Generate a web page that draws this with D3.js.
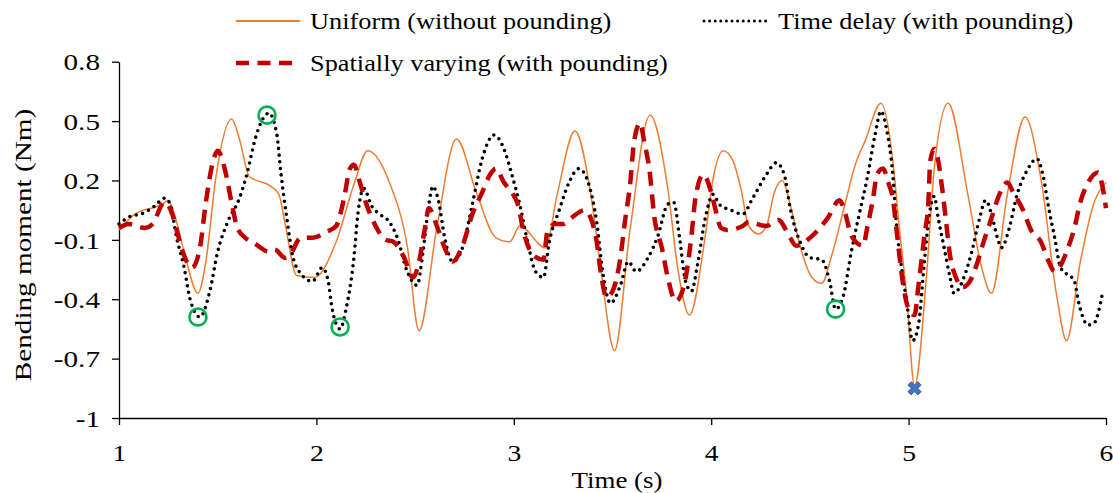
<!DOCTYPE html>
<html>
<head>
<meta charset="utf-8">
<script src="https://cdn.jsdelivr.net/npm/d3@7"></script>
<style>
  html, body { margin: 0; padding: 0; background: #fff; }
  svg text { font-family: "Liberation Serif", "Times New Roman", serif; fill: #000; }
</style>
</head>
<body>
<svg id="chart" width="1113" height="493"></svg>
<script>
// ---------- data ----------
const xTicks = [1, 2, 3, 4, 5, 6];
const yTicks = [0.8, 0.5, 0.2, -0.1, -0.4, -0.7, -1];
const seriesNames = ["Uniform (without pounding)", "Time delay (with pounding)", "Spatially varying (with pounding)"];
const xTitle = "Time (s)";
const yTitle = "Bending moment (Nm)";

// [time (s), bending moment (Nm)]
const uniform = [[1.00,-0.05],[1.08,0.03],[1.22,0.08],[1.25,0.10],[1.28,0.03],[1.33,-0.16],[1.40,-0.37],[1.44,-0.21],[1.49,0.21],[1.57,0.51],
  [1.61,0.41],[1.66,0.22],[1.77,0.17],[1.81,0.13],[1.84,-0.01],[1.90,-0.28],[1.99,-0.29],[2.10,-0.11],[2.19,0.18],[2.26,0.35],
  [2.37,0.19],[2.46,-0.13],[2.52,-0.56],[2.61,-0.04],[2.71,0.41],[2.81,0.14],[2.91,-0.09],[2.98,-0.11],[3.03,-0.03],[3.16,-0.14],
  [3.22,0.13],[3.31,0.45],[3.39,0.13],[3.44,-0.24],[3.51,-0.66],[3.59,-0.04],[3.69,0.53],[3.78,0.16],[3.83,-0.24],[3.89,-0.48],
  [3.97,-0.08],[4.01,0.21],[4.06,0.35],[4.11,0.30],[4.15,0.16],[4.19,-0.03],[4.24,-0.07],[4.28,-0.03],[4.32,0.14],[4.36,0.20],
  [4.40,0.08],[4.45,-0.13],[4.51,-0.29],[4.56,-0.32],[4.61,-0.18],[4.68,0.09],[4.73,0.28],[4.78,0.40],[4.86,0.59],[4.92,0.30],
  [4.95,-0.01],[4.99,-0.38],[5.03,-0.84],[5.09,-0.29],[5.13,0.26],[5.20,0.59],[5.30,0.13],[5.37,-0.24],[5.42,-0.37],[5.50,0.13],
  [5.59,0.52],[5.67,0.21],[5.75,-0.38],[5.80,-0.61],[5.87,-0.21],[5.94,0.09],[6.00,0.19]];

const timeDelay = [[1.00,-0.02],[1.06,0.02],[1.11,0.03],[1.18,0.07],[1.23,0.11],[1.26,0.08],[1.29,-0.08],[1.33,-0.24],[1.36,-0.40],[1.41,-0.49],
  [1.46,-0.36],[1.50,-0.16],[1.55,-0.01],[1.61,0.11],[1.65,0.24],[1.69,0.41],[1.76,0.54],[1.80,0.43],[1.82,0.24],[1.85,0.01],
  [1.88,-0.18],[1.92,-0.27],[1.98,-0.31],[2.03,-0.24],[2.06,-0.31],[2.08,-0.45],[2.12,-0.55],[2.15,-0.45],[2.19,-0.19],[2.21,0.03],
  [2.24,0.16],[2.28,0.07],[2.32,0.03],[2.37,-0.01],[2.41,-0.09],[2.46,-0.26],[2.51,-0.33],[2.54,-0.16],[2.57,0.08],[2.59,0.17],
  [2.62,0.09],[2.65,-0.09],[2.69,-0.21],[2.74,-0.14],[2.79,0.08],[2.84,0.31],[2.90,0.43],[2.95,0.36],[2.99,0.23],[3.03,0.08],
  [3.07,-0.11],[3.11,-0.26],[3.15,-0.29],[3.18,-0.11],[3.23,0.05],[3.28,0.19],[3.33,0.26],[3.38,0.18],[3.42,-0.01],[3.45,-0.26],
  [3.49,-0.42],[3.54,-0.33],[3.58,-0.21],[3.62,-0.26],[3.68,-0.19],[3.73,-0.08],[3.78,0.08],[3.81,0.09],[3.84,-0.09],[3.87,-0.31],
  [3.90,-0.36],[3.93,-0.23],[3.97,0.01],[4.01,0.13],[4.04,0.08],[4.10,0.05],[4.16,0.03],[4.21,0.11],[4.28,0.23],[4.33,0.29],
  [4.37,0.23],[4.40,0.06],[4.45,-0.11],[4.50,-0.19],[4.56,-0.20],[4.60,-0.31],[4.63,-0.45],[4.67,-0.38],[4.71,-0.16],[4.75,0.03],
  [4.79,0.21],[4.83,0.43],[4.86,0.55],[4.89,0.45],[4.92,0.23],[4.94,-0.04],[4.96,-0.21],[4.99,-0.41],[5.02,-0.61],[5.05,-0.53],
  [5.08,-0.21],[5.10,-0.01],[5.13,0.12],[5.15,0.01],[5.18,-0.14],[5.21,-0.29],[5.23,-0.37],[5.28,-0.29],[5.32,-0.16],[5.36,0.01],
  [5.39,0.10],[5.42,0.03],[5.45,-0.09],[5.47,-0.14],[5.51,-0.04],[5.55,0.13],[5.60,0.25],[5.65,0.31],[5.68,0.23],[5.71,0.06],
  [5.74,-0.09],[5.77,-0.24],[5.84,-0.31],[5.86,-0.41],[5.91,-0.53],[5.94,-0.52],[5.98,-0.38]];

const spatial = [[1.00,-0.04],[1.05,-0.02],[1.13,-0.04],[1.17,-0.02],[1.23,0.09],[1.27,0.03],[1.30,-0.08],[1.33,-0.18],[1.37,-0.24],[1.41,-0.14],
  [1.44,0.09],[1.48,0.31],[1.50,0.35],[1.54,0.24],[1.57,0.09],[1.60,-0.04],[1.64,-0.09],[1.69,-0.12],[1.76,-0.16],[1.79,-0.15],
  [1.84,-0.19],[1.87,-0.17],[1.92,-0.09],[1.98,-0.09],[2.05,-0.06],[2.10,-0.03],[2.14,0.11],[2.17,0.26],[2.19,0.28],[2.22,0.19],
  [2.25,0.09],[2.30,-0.03],[2.35,-0.10],[2.39,-0.11],[2.44,-0.18],[2.49,-0.29],[2.52,-0.21],[2.55,-0.04],[2.57,0.06],[2.61,-0.03],
  [2.65,-0.14],[2.69,-0.21],[2.74,-0.13],[2.79,0.03],[2.84,0.14],[2.88,0.23],[2.91,0.26],[2.95,0.19],[2.99,0.14],[3.02,0.08],
  [3.05,-0.06],[3.10,-0.18],[3.15,-0.20],[3.17,-0.06],[3.21,-0.02],[3.25,-0.02],[3.29,0.01],[3.36,0.05],[3.39,0.01],[3.42,-0.11],
  [3.44,-0.26],[3.47,-0.39],[3.50,-0.36],[3.54,-0.19],[3.56,-0.03],[3.59,0.19],[3.61,0.40],[3.64,0.49],[3.66,0.40],[3.69,0.23],
  [3.71,0.03],[3.75,-0.14],[3.78,-0.29],[3.82,-0.41],[3.86,-0.34],[3.90,-0.08],[3.92,0.11],[3.96,0.23],[4.00,0.14],[4.02,0.06],
  [4.05,-0.04],[4.08,-0.05],[4.16,-0.03],[4.19,-0.01],[4.28,-0.03],[4.34,0.00],[4.40,-0.09],[4.43,-0.13],[4.50,-0.09],[4.55,-0.04],
  [4.59,0.01],[4.65,0.10],[4.68,0.03],[4.71,-0.08],[4.77,-0.13],[4.79,-0.04],[4.82,0.11],[4.84,0.23],[4.87,0.26],[4.90,0.18],
  [4.92,0.11],[4.94,-0.06],[4.97,-0.31],[5.00,-0.45],[5.03,-0.48],[5.05,-0.33],[5.08,-0.08],[5.10,0.09],[5.11,0.30],[5.13,0.36],
  [5.15,0.30],[5.17,0.16],[5.19,-0.01],[5.21,-0.18],[5.24,-0.29],[5.27,-0.34],[5.31,-0.31],[5.34,-0.24],[5.38,-0.11],[5.42,0.01],
  [5.46,0.13],[5.50,0.19],[5.53,0.14],[5.58,0.05],[5.62,-0.05],[5.67,-0.11],[5.71,-0.21],[5.74,-0.26],[5.77,-0.23],[5.80,-0.16],
  [5.84,-0.04],[5.87,0.09],[5.91,0.19],[5.96,0.24],[5.98,0.18],[6.00,0.06]];

// highlighted peaks (green circles) and the maximum (blue cross)
const peakPoints = [[1.40,-0.49],[1.75,0.53],[2.12,-0.54],[4.63,-0.45]];
const maxPoint = [[5.03,-0.85]];

// ---------- drawing ----------
const svg = d3.select("#chart");
const FS = 23;
const x = d3.scaleLinear().domain([1, 6]).range([119, 1106]);
const y = d3.scaleLinear().domain([-1, 0.8]).range([418, 61.7]);

function stretch(sel, k) {
  sel.each(function () {
    const len = this.getComputedTextLength();
    d3.select(this).attr("textLength", len * k).attr("lengthAdjust", "spacingAndGlyphs");
  });
}

// axes
const yAxis = svg.append("g").attr("transform", "translate(119,0)")
  .call(d3.axisLeft(y).tickValues(yTicks).tickSize(7).tickSizeOuter(0).tickPadding(12)
    .tickFormat(d => d === -1 ? "-1" : d.toFixed(1).replace("−", "-")));
yAxis.select(".domain").attr("stroke", "#000").attr("stroke-width", 1.3);
yAxis.selectAll(".tick line").attr("stroke", "#000").attr("stroke-width", 1.3);
yAxis.selectAll("text").attr("font-size", FS).attr("font-family", "Liberation Serif").attr("dy", "0.36em");
stretch(yAxis.selectAll("text"), 1.27);

const xAxis = svg.append("g").attr("transform", "translate(0,418)")
  .call(d3.axisBottom(x).tickValues(xTicks).tickSize(7).tickSizeOuter(0).tickFormat(d3.format("d")));
xAxis.select(".domain").attr("stroke", "#000").attr("stroke-width", 1.3);
xAxis.selectAll(".tick line").attr("stroke", "#000").attr("stroke-width", 1.3);
xAxis.selectAll("text").attr("font-size", FS).attr("font-family", "Liberation Serif").attr("y", 35).attr("dy", "0.36em");
stretch(xAxis.selectAll("text"), 1.2);

// axis titles
const xt = svg.append("text").attr("x", 617).attr("y", 480).attr("dy", "0.36em")
  .attr("text-anchor", "middle").attr("font-size", FS).text(xTitle);
stretch(xt, 1.17);
const yt = svg.append("text").attr("transform", "translate(23,245) rotate(-90)").attr("dy", "0.36em")
  .attr("text-anchor", "middle").attr("font-size", FS).text(yTitle);
stretch(yt, 1.27);

// series
const line = d3.line().x(d => x(d[0])).y(d => y(d[1])).curve(d3.curveMonotoneX);
const styles = [
  { data: uniform, stroke: "#ED7D31", width: 1.5, dash: null, cap: "butt", lw: 2, ldash: null },
  { data: timeDelay, stroke: "#000000", width: 3.6, dash: "0 6.6", cap: "round", lw: 3, ldash: "0 5.6" },
  { data: spatial, stroke: "#C00000", width: 4.5, dash: "14 8.5", cap: "butt", lw: 4.5, ldash: "13 8.5" }
];
styles.forEach(s => {
  svg.append("path").datum(s.data).attr("d", line)
    .attr("fill", "none").attr("stroke", s.stroke).attr("stroke-width", s.width)
    .attr("stroke-dasharray", s.dash).attr("stroke-linecap", s.cap).attr("stroke-linejoin", "round");
});

// markers
svg.selectAll("circle.peak").data(peakPoints).join("circle").attr("class", "peak")
  .attr("cx", d => x(d[0])).attr("cy", d => y(d[1])).attr("r", 8.5)
  .attr("fill", "none").attr("stroke", "#00B050").attr("stroke-width", 2.6);
svg.selectAll("path.maxmark").data(maxPoint).join("path").attr("class", "maxmark")
  .attr("transform", d => `translate(${x(d[0])},${y(d[1])}) rotate(45)`)
  .attr("d", d3.symbol(d3.symbolCross, 110)())
  .attr("fill", "#4472C4").attr("stroke", "#2F5597").attr("stroke-width", 0.8);

// legend
const legendItems = [
  { name: seriesNames[0], s: styles[0], lx: 236, ly: 21 },
  { name: seriesNames[1], s: styles[1], lx: 704, ly: 21 },
  { name: seriesNames[2], s: styles[2], lx: 236, ly: 63 }
];
legendItems.forEach(it => {
  svg.append("line").attr("x1", it.lx).attr("x2", it.lx + 64).attr("y1", it.ly).attr("y2", it.ly)
    .attr("stroke", it.s.stroke).attr("stroke-width", it.s.lw)
    .attr("stroke-dasharray", it.s.ldash).attr("stroke-linecap", it.s.cap);
  const t = svg.append("text").attr("x", it.lx + 74).attr("y", it.ly).attr("dy", "0.36em")
    .attr("font-size", FS).text(it.name);
  stretch(t, 1.145);
});
</script>
</body>
</html>
